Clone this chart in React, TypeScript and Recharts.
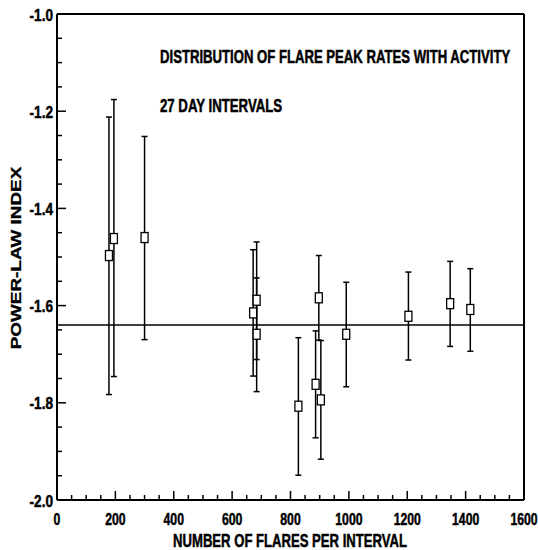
import { ErrorBar, ReferenceLine, Scatter, ScatterChart, XAxis, YAxis } from "recharts";

// number of flares per 27-day interval
const flareCounts = [178, 195, 300, 672, 684, 684, 827, 886, 897, 904, 991, 1204, 1347, 1416];
// fitted power-law index
const powerLawIndex = [-1.497, -1.462, -1.46, -1.615, -1.589, -1.659, -1.807, -1.762, -1.584, -1.794, -1.659, -1.622, -1.596, -1.608];
// error bar ends
const upperBound = [-1.212, -1.176, -1.252, -1.485, -1.469, -1.543, -1.666, -1.652, -1.497, -1.672, -1.552, -1.531, -1.509, -1.524];
const lowerBound = [-1.783, -1.746, -1.67, -1.745, -1.711, -1.777, -1.949, -1.872, -1.671, -1.916, -1.767, -1.712, -1.684, -1.694];

const MEAN_INDEX = -1.64;

const xMajorTicks = [0, 200, 400, 600, 800, 1000, 1200, 1400, 1600];
const yMajorTicks = [-2.0, -1.8, -1.6, -1.4, -1.2, -1.0];

const xTicks = Array.from({ length: 33 }, (_, i) => i * 50);
const yTicks = Array.from({ length: 21 }, (_, i) => Math.round((-2 + i * 0.05) * 100) / 100);

const FONT = "'Liberation Sans', Arial, sans-serif";

const data = flareCounts.map((x, i) => ({
  x,
  y: powerLawIndex[i],
  err: [powerLawIndex[i] - lowerBound[i], upperBound[i] - powerLawIndex[i]],
}));

const isMajorX = (v: number) => xMajorTicks.includes(v);
const isMajorY = (v: number) => yMajorTicks.some((t) => Math.abs(t - v) < 1e-6);

// heavy lettering, squeezed horizontally with transforms
const labelStyle = {
  fontFamily: FONT,
  fontWeight: "bold" as const,
  fontSize: 17,
  fill: "#000",
  stroke: "#000",
  strokeWidth: 0.5,
};

function BottomTick({ x, y, payload }: any) {
  const v = payload.value;
  const major = isMajorX(v);
  return (
    <g>
      <line x1={x} x2={x} y1={y} y2={y - (major ? 9 : 5)} stroke="#000" strokeWidth={1.5} />
      {major && (
        <text transform={`translate(${x},${y + 25}) scale(0.72,1)`} textAnchor="middle" {...labelStyle}>
          {v}
        </text>
      )}
    </g>
  );
}

function TopTick({ x, y, payload }: any) {
  const major = isMajorX(payload.value);
  return <line x1={x} x2={x} y1={y} y2={y + (major ? 9 : 5)} stroke="#000" strokeWidth={1.5} />;
}

function LeftTick({ x, y, payload }: any) {
  const v = payload.value;
  const major = isMajorY(v);
  return (
    <g>
      <line x1={x} x2={x + (major ? 9 : 5)} y1={y} y2={y} stroke="#000" strokeWidth={1.5} />
      {major && (
        <text transform={`translate(${x - 4},${y + 6.5}) scale(0.8,1)`} textAnchor="end" {...labelStyle}>
          {v.toFixed(1)}
        </text>
      )}
    </g>
  );
}

function RightTick({ x, y, payload }: any) {
  const major = isMajorY(payload.value);
  return <line x1={x} x2={x - (major ? 9 : 5)} y1={y} y2={y} stroke="#000" strokeWidth={1.5} />;
}

function Box({ cx, cy }: any) {
  return <rect x={cx - 3.5} y={cy - 5} width={7} height={10} fill="#fff" stroke="#000" strokeWidth={1.3} />;
}

const axisLine = { stroke: "#000", strokeWidth: 2 };

export default function App() {
  return (
    <div style={{ position: "absolute", left: 0, top: 0, width: 538, height: 550, background: "#fff" }}>
      <ScatterChart width={538} height={550} margin={{ top: 13, right: 13, bottom: 49, left: 56 }}>
        <XAxis
          dataKey="x"
          type="number"
          domain={[0, 1600]}
          ticks={xTicks}
          interval={0}
          height={1}
          tickSize={0}
          tickMargin={0}
          tickLine={false}
          axisLine={axisLine}
          tick={BottomTick}
        />
        <XAxis
          xAxisId="top"
          orientation="top"
          type="number"
          domain={[0, 1600]}
          ticks={xTicks}
          interval={0}
          height={1}
          tickSize={0}
          tickMargin={0}
          tickLine={false}
          axisLine={axisLine}
          tick={TopTick}
        />
        <YAxis
          dataKey="y"
          type="number"
          domain={[-2, -1]}
          ticks={yTicks}
          interval={0}
          width={1}
          tickSize={0}
          tickMargin={0}
          tickLine={false}
          axisLine={axisLine}
          tick={LeftTick}
        />
        <YAxis
          yAxisId="right"
          orientation="right"
          type="number"
          domain={[-2, -1]}
          ticks={yTicks}
          interval={0}
          width={1}
          tickSize={0}
          tickMargin={0}
          tickLine={false}
          axisLine={axisLine}
          tick={RightTick}
        />
        <ReferenceLine y={MEAN_INDEX} stroke="#000" strokeWidth={1.5} />
        <Scatter data={data} shape={() => <g />} isAnimationActive={false}>
          <ErrorBar dataKey="err" direction="y" width={3} stroke="#000" strokeWidth={1.5} />
        </Scatter>
        <Scatter data={data} shape={Box} isAnimationActive={false} />
      </ScatterChart>
      <svg
        width={538}
        height={550}
        style={{ position: "absolute", left: 0, top: 0, pointerEvents: "none" }}
      >
        <text transform="translate(160,63) scale(0.73,1)" {...labelStyle} fontSize={18}>
          DISTRIBUTION OF FLARE PEAK RATES WITH ACTIVITY
        </text>
        <text transform="translate(160,112) scale(0.735,1)" {...labelStyle} fontSize={18}>
          27 DAY INTERVALS
        </text>
        <text transform="translate(290,547) scale(0.69,1)" textAnchor="middle" {...labelStyle} fontSize={19}>
          NUMBER OF FLARES PER INTERVAL
        </text>
        <text
          transform="translate(21,258) rotate(-90) scale(1.22,1)"
          textAnchor="middle"
          {...labelStyle}
          fontSize={15.5}
          strokeWidth={0.3}
        >
          POWER-LAW INDEX
        </text>
      </svg>
    </div>
  );
}
